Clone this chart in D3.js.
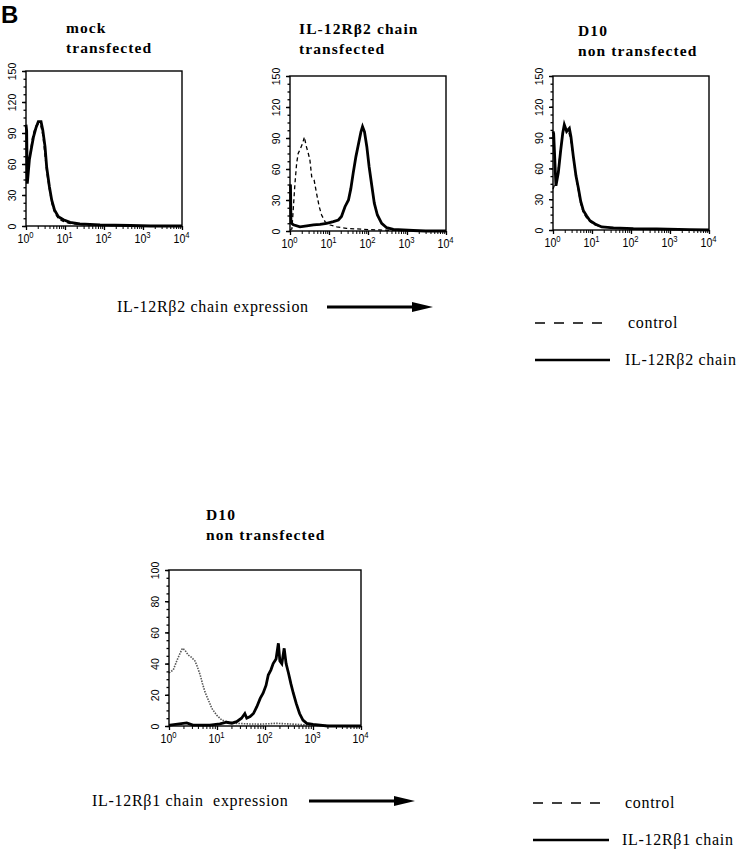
<!DOCTYPE html>
<html><head><meta charset="utf-8">
<script src="https://cdn.jsdelivr.net/npm/d3@7"></script>
<style>body{margin:0;background:#fff}</style>
</head><body>
<svg id="c" width="742" height="853" xmlns="http://www.w3.org/2000/svg"></svg>
<script>
// ---------- DATA (fluorescence intensity, cell count) ----------
const mockSample = [[1.00,98],[1.04,92],[1.08,41],[1.22,64],[1.40,77],[1.55,86],[1.80,95],[2.07,101],[2.43,101],[2.69,93],[3.07,77],[3.39,57],[3.98,38],[4.57,25],[5.37,15.5],[6.76,9],[9.12,6],[13.5,3.5],[24,2],[79,1],[468,0.5],[1585,0],[10000,0]];
const mockControl = [[1.00,50],[1.10,52],[1.30,72],[1.50,88],[1.80,97],[2.10,99],[2.40,97],[2.70,88],[3.00,72],[3.40,52],[4.00,35],[4.60,22],[5.40,13],[6.80,7],[9,4.5],[13,2.5],[24,1.5],[80,0.6],[500,0.3],[2000,0],[10000,0]];

const beta2Sample = [[1.00,45],[1.03,44],[1.06,8],[1.22,6],[1.8,4],[2.7,5],[4.0,6],[5.9,6.5],[8.7,7.4],[12.9,9],[17.4,10.6],[20.9,14],[25.7,23.5],[31.6,30],[36.3,41],[41.7,56],[49,72],[57.5,85],[66,96],[72.4,101],[81.3,96],[93.3,81.6],[107,62],[126,43],[145,27],[174,15.5],[224,7.4],[302,3.2],[447,1.6],[794,1],[1445,0.5],[3000,0],[10000,0]];
const beta2Control = [[1.00,1],[1.12,2],[1.34,46],[1.48,65.5],[1.62,75],[1.86,80],[2.11,85],[2.34,91],[2.57,83],[2.95,75],[3.24,68.7],[3.6,52.5],[4.17,49],[4.79,36.5],[5.62,23.5],[6.46,15.5],[7.94,9],[10.7,5.8],[15.8,4],[28,2.6],[76,1.6],[200,1],[800,0.3],[10000,0]];

const d10Sample = [[1.00,96],[1.04,94],[1.19,43],[1.37,56],[1.58,78],[1.78,94.5],[1.95,102.6],[2.24,96],[2.63,99],[2.88,91],[3.31,72],[3.89,52.5],[4.47,41],[5.13,28],[6.03,18.7],[7.24,13.8],[8.9,9],[12,5.8],[17.8,3],[35.5,2],[115,1.3],[457,1],[3162,0.3],[10000,0]];
const d10Control = [[1.00,40],[1.2,48],[1.4,62],[1.6,82],[1.8,97],[2.0,100],[2.3,98],[2.6,94],[2.9,86],[3.3,70],[3.9,50],[4.5,38],[5.1,26],[6,17],[7.2,12],[9,8],[12,5],[18,3],[36,2],[115,1],[460,0.8],[3000,0.2],[10000,0]];

const beta1Sample = [[1.00,0.6],[1.05,0.6],[2.34,2],[3.16,0.6],[7.1,0.6],[11.5,1.3],[15.8,2.4],[20.4,1.8],[25.7,2.8],[32.4,5],[38,8],[41.7,5],[49,6],[57.5,8],[67.6,12.4],[79.4,17.7],[91.2,21],[105,26],[117,32.7],[133,36],[148,40],[170,43],[190,53],[204,41.7],[224,40],[251,49.8],[275,40],[309,33.8],[347,27],[389,21],[447,14.5],[525,8],[617,3.8],[741,1.7],[1000,1],[1413,0.6],[2000,0],[10000,0]];
const beta1Control = [[1.00,34],[1.23,36],[1.45,41.7],[1.7,46.6],[1.9,49.8],[2.14,48.7],[2.51,45.5],[2.95,44],[3.47,41.7],[3.89,38],[4.47,32.7],[5.0,27],[5.6,22],[6.6,16.7],[7.8,11.3],[9.8,7],[12.6,3.8],[15.8,2.8],[25.7,1.7],[49,1.3],[79,1.2],[174,1.7],[389,1.2],[871,0.6],[3162,0],[10000,0]];

const yTicksTop = [0,30,60,90,120,150];
const yTicksBottom = [0,20,40,60,80,100];
const xTickValues = [1,10,100,1000,10000];
const xTickExponents = ["0","1","2","3","4"];

const titles = [
  ["mock","transfected"],
  ["IL-12R\u03B22 chain","transfected"],
  ["D10","non transfected"],
  ["D10","non transfected"]
];
const axisCaptions = ["IL-12R\u03B22 chain expression", "IL-12R\u03B21 chain\u00A0 expression"];
const legendTop = ["control", "IL-12R\u03B22 chain"];
const legendBottom = ["control", "IL-12R\u03B21 chain"];

// ---------- DRAW ----------
const svg = d3.select('#c');
const SANS = "'Liberation Sans', Arial, Helvetica, sans-serif";
const SERIF = "'Liberation Serif', 'Times New Roman', Times, serif";

svg.append('text').attr('x',1).attr('y',23).attr('font-family',SANS)
  .attr('font-weight','bold').attr('font-size',24).text('B');

function panel(cfg){
  const x = d3.scaleLog().domain([1,10000]).range([cfg.x0,cfg.x1]);
  const ymax = cfg.yTicks[cfg.yTicks.length-1];
  const y = d3.scaleLinear().domain([0,ymax]).range([cfg.y1,cfg.y0]);
  const g = svg.append('g');

  // y minor ticks
  const yMinor = d3.range(0, 21).map(i => i*ymax/20);
  g.append('g').attr('transform',`translate(${cfg.x0},0)`)
    .call(d3.axisLeft(y).tickValues(yMinor).tickSize(2.5).tickFormat(''))
    .call(a=>a.select('.domain').remove())
    .call(a=>a.selectAll('line').attr('stroke','#000').attr('stroke-width',1.3));
  // y major ticks + rotated labels
  g.append('g').attr('transform',`translate(${cfg.x0},0)`)
    .call(d3.axisLeft(y).tickValues(cfg.yTicks).tickSize(4))
    .call(a=>a.select('.domain').remove())
    .call(a=>a.selectAll('line').attr('stroke','#000').attr('stroke-width',1.4))
    .call(a=>a.selectAll('text')
      .attr('transform','rotate(-90)').attr('x',0).attr('y',-10).attr('dy',0)
      .attr('text-anchor','middle').attr('font-family',SANS).attr('font-size',10.5).attr('fill','#000'));

  // x minor ticks
  const xMinor = [];
  for (let e=0;e<4;e++) for (let m=2;m<10;m++) xMinor.push(m*Math.pow(10,e));
  g.append('g').attr('transform',`translate(0,${cfg.y1})`)
    .call(d3.axisBottom(x).tickValues(xMinor).tickSize(3).tickFormat(''))
    .call(a=>a.select('.domain').remove())
    .call(a=>a.selectAll('line').attr('stroke','#000').attr('stroke-width',1));
  const xa = g.append('g').attr('transform',`translate(0,${cfg.y1})`)
    .call(d3.axisBottom(x).tickValues(xTickValues).tickSize(4).tickFormat(''))
    .call(a=>a.select('.domain').remove())
    .call(a=>a.selectAll('line').attr('stroke','#000').attr('stroke-width',1.3));
  xa.selectAll('.tick').each(function(d,i){
    const t = d3.select(this).append('g').attr('transform',`translate(-1,17) scale(0.85,1)`)
      .append('text').attr('text-anchor','middle').attr('font-family',SANS).attr('font-size',12.5).attr('fill','#000');
    t.append('tspan').text('10');
    t.append('tspan').attr('dy',-5.5).attr('font-size',9).text(xTickExponents[i]);
  });

  // curves
  const line = d3.line().x(d=>x(d[0])).y(d=>y(d[1]));
  cfg.series.forEach(s=>{
    g.append('path').attr('d',line(s.data)).attr('fill','none')
      .attr('stroke',s.color||'#000').attr('stroke-width',s.w)
      .attr('stroke-dasharray',s.dash||null).attr('stroke-linejoin','miter');
  });

  // frame
  g.append('rect').attr('x',cfg.x0).attr('y',cfg.y0).attr('width',cfg.x1-cfg.x0).attr('height',cfg.y1-cfg.y0)
    .attr('fill','none').attr('stroke','#000').attr('stroke-width',1.4);

  // title
  cfg.title.forEach((t,i)=>{
    g.append('text').attr('x',cfg.tx).attr('y',cfg.ty+i*19.5).attr('font-family',SERIF)
      .attr('font-weight','bold').attr('font-size',15.5).attr('letter-spacing',1.1).text(t);
  });
}

panel({x0:26,x1:182,y0:71,y1:226,yTicks:yTicksTop,tx:66,ty:33,title:titles[0],
  series:[{data:mockControl,w:1.3,dash:'4,3'},{data:mockSample,w:2.8}]});
panel({x0:290,x1:446,y0:76,y1:231,yTicks:yTicksTop,tx:299,ty:34,title:titles[1],
  series:[{data:beta2Control,w:1.3,dash:'4,3'},{data:beta2Sample,w:2.8}]});
panel({x0:553,x1:709,y0:76,y1:230,yTicks:yTicksTop,tx:578,ty:36,title:titles[2],
  series:[{data:d10Control,w:1.3,dash:'4,3'},{data:d10Sample,w:2.8}]});
panel({x0:169,x1:361,y0:570,y1:726,yTicks:yTicksBottom,tx:206,ty:520,title:titles[3],
  series:[{data:beta1Control,w:1.6,dash:'1.5,1.2',color:'#555'},{data:beta1Sample,w:2.8}]});

// captions with arrows
function caption(text, tx, ty, ax0, ax1, ay){
  svg.append('text').attr('x',tx).attr('y',ty).attr('font-family',SERIF).attr('font-size',16)
    .attr('letter-spacing',0.7).text(text);
  const headLen = 21;
  svg.append('line').attr('x1',ax0).attr('x2',ax1-headLen+2).attr('y1',ay).attr('y2',ay)
    .attr('stroke','#000').attr('stroke-width',2.8);
  svg.append('path').attr('d',`M${ax1-headLen},${ay-5}L${ax1},${ay}L${ax1-headLen},${ay+5}Z`).attr('fill','#000');
}
caption(axisCaptions[0],117,312,327,433,307);
caption(axisCaptions[1],92,806,309,415,801);

function legend(labels, lx0, lx1, y1, y2, tx){
  svg.append('line').attr('x1',lx0).attr('x2',lx1).attr('y1',y1).attr('y2',y1)
    .attr('stroke','#000').attr('stroke-width',1.6).attr('stroke-dasharray','10,9');
  svg.append('line').attr('x1',lx0).attr('x2',lx1).attr('y1',y2).attr('y2',y2)
    .attr('stroke','#000').attr('stroke-width',2.6);
  svg.append('text').attr('x',tx+3).attr('y',y1+5).attr('font-family',SERIF).attr('font-size',16)
    .attr('letter-spacing',0.7).text(labels[0]);
  svg.append('text').attr('x',tx).attr('y',y2+5).attr('font-family',SERIF).attr('font-size',16)
    .attr('letter-spacing',0.7).text(labels[1]);
}
legend(legendTop,535,610,323,360,625);
legend(legendBottom,533,609,803,840,622);
</script>
</body></html>
